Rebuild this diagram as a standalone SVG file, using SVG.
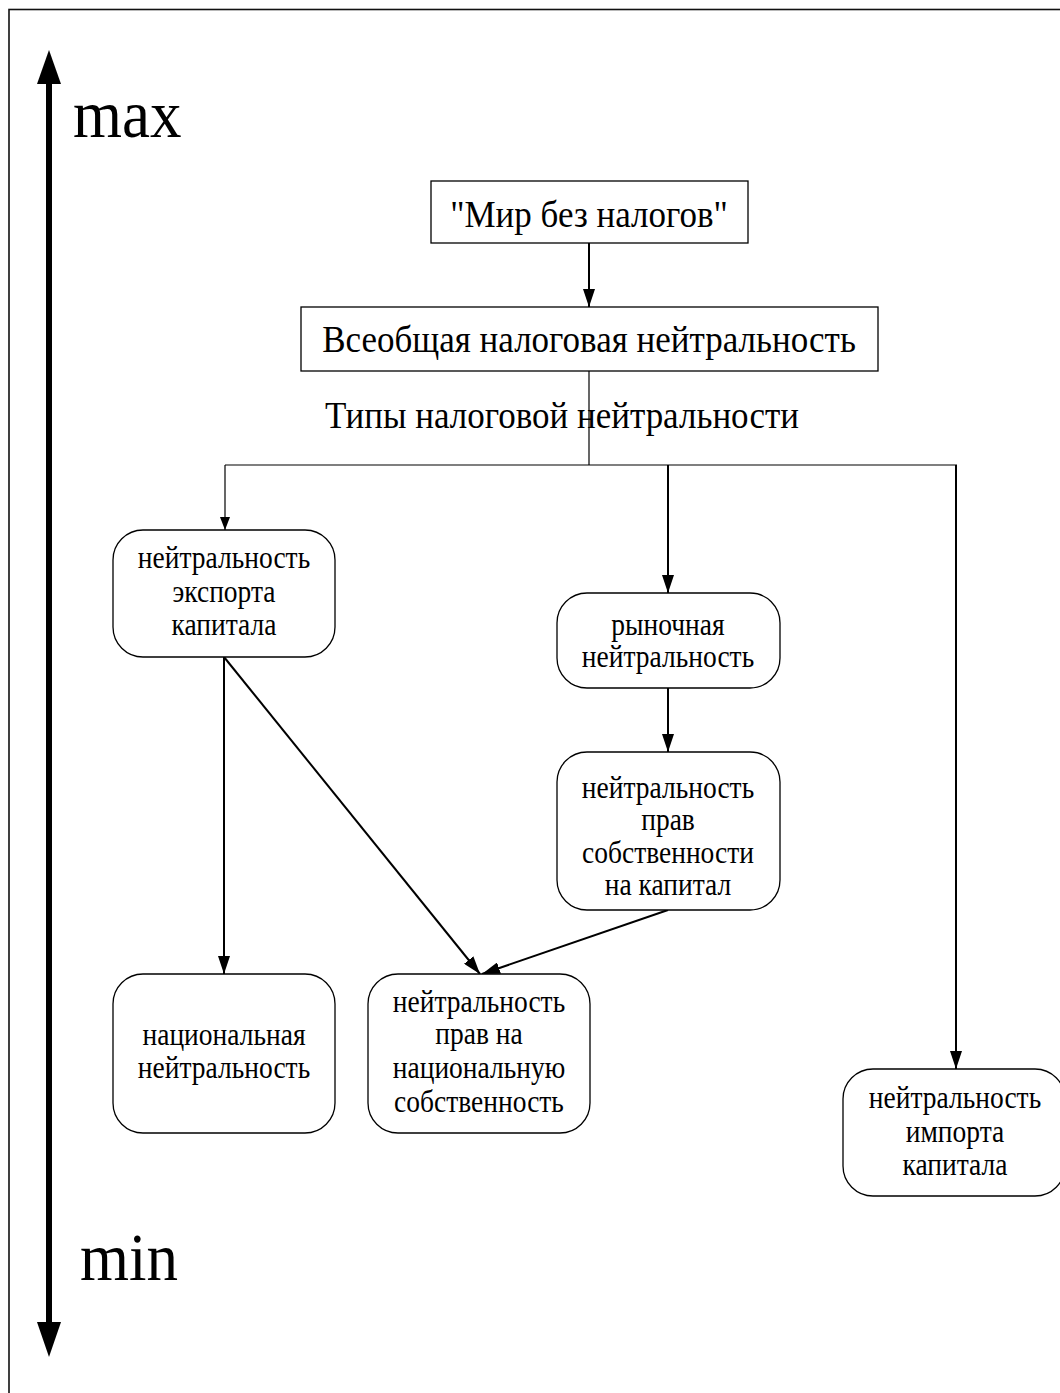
<svg xmlns="http://www.w3.org/2000/svg" width="1060" height="1393" viewBox="0 0 1060 1393">
<style>
text{font-family:"Liberation Serif","Times New Roman",serif;fill:#000;text-anchor:middle}
.big{font-size:63px;text-anchor:start}
.ttl{font-size:35px}
.nd{font-size:27.5px}
.box{fill:#fff;stroke:#000;stroke-width:1.3}
.con{fill:none;stroke:#000;stroke-width:2}
.thin{fill:none;stroke:#000;stroke-width:1.2}
</style>
<defs>
<marker id="ah" markerWidth="18" markerHeight="12" refX="18" refY="6" orient="auto" markerUnits="userSpaceOnUse"><path d="M0,0 L18,6 L0,12 z" fill="#000"/></marker>
<marker id="ahs" markerWidth="13" markerHeight="10" refX="13" refY="5" orient="auto" markerUnits="userSpaceOnUse"><path d="M0,0 L13,5 L0,10 z" fill="#000"/></marker>
</defs>
<rect x="0" y="0" width="1060" height="1393" fill="#fff"/>
<rect x="9" y="9.5" width="1100" height="1450" fill="none" stroke="#111" stroke-width="1.6"/>
<g id="axis">
<line x1="49" y1="80" x2="49" y2="1325" stroke="#000" stroke-width="6"/>
<polygon points="49,50 61,84 37,84" fill="#000"/>
<polygon points="49,1357 61,1322 37,1322" fill="#000"/>
<text class="big" transform="translate(73,137) scale(1,1.08)">max</text>
<text class="big" transform="translate(80,1280) scale(1,1.08)">min</text>
</g>
<g id="connectors">
<path class="con" d="M589,243 V307" marker-end="url(#ah)"/>
<path class="thin" d="M589,371 V465"/>
<path class="thin" d="M225,465 H957"/>
<path class="thin" d="M225,465 V530" marker-end="url(#ahs)"/>
<path class="con" d="M668,465 V593" marker-end="url(#ah)"/>
<path class="con" d="M956,465 V1069" marker-end="url(#ah)"/>
<path class="con" d="M668,688 V752" marker-end="url(#ah)"/>
<path class="con" d="M224,657 V974" marker-end="url(#ah)"/>
<path class="con" d="M224,657 L480,974" marker-end="url(#ah)"/>
<path class="con" d="M668,910 L482,974" marker-end="url(#ah)"/>
</g>
<g id="n-mir">
<rect class="box" x="431" y="181" width="317" height="62"/>
<text class="ttl" transform="translate(589,227) scale(1,1.1)">"Мир без налогов"</text>
</g>
<g id="n-vseob">
<rect class="box" x="301" y="307" width="577" height="64"/>
<text class="ttl" transform="translate(589,352) scale(1,1.1)">Всеобщая налоговая нейтральность</text>
</g>
<g id="lbl-types">
<text class="ttl" transform="translate(562,428) scale(1,1.1)">Типы налоговой нейтральности</text>
</g>
<g id="n-export">
<rect class="box" x="113" y="530" width="222" height="127" rx="30"/>
<text class="nd" transform="translate(224,568) scale(1,1.12)">нейтральность</text>
<text class="nd" transform="translate(224,602) scale(1,1.12)">экспорта</text>
<text class="nd" transform="translate(224,635) scale(1,1.12)">капитала</text>
</g>
<g id="n-market">
<rect class="box" x="557" y="593" width="223" height="95" rx="30"/>
<text class="nd" transform="translate(668,635) scale(1,1.12)">рыночная</text>
<text class="nd" transform="translate(668,667) scale(1,1.12)">нейтральность</text>
</g>
<g id="n-prop-cap">
<rect class="box" x="557" y="752" width="223" height="158" rx="30"/>
<text class="nd" transform="translate(668,798) scale(1,1.12)">нейтральность</text>
<text class="nd" transform="translate(668,830) scale(1,1.12)">прав</text>
<text class="nd" transform="translate(668,863) scale(1,1.12)">собственности</text>
<text class="nd" transform="translate(668,895) scale(1,1.12)">на капитал</text>
</g>
<g id="n-national">
<rect class="box" x="113" y="974" width="222" height="159" rx="30"/>
<text class="nd" transform="translate(224,1045) scale(1,1.12)">национальная</text>
<text class="nd" transform="translate(224,1078) scale(1,1.12)">нейтральность</text>
</g>
<g id="n-nat-prop">
<rect class="box" x="368" y="974" width="222" height="159" rx="30"/>
<text class="nd" transform="translate(479,1012) scale(1,1.12)">нейтральность</text>
<text class="nd" transform="translate(479,1044) scale(1,1.12)">прав на</text>
<text class="nd" transform="translate(479,1078) scale(1,1.12)">национальную</text>
<text class="nd" transform="translate(479,1112) scale(1,1.12)">собственность</text>
</g>
<g id="n-import">
<rect class="box" x="843" y="1069" width="222" height="127" rx="30"/>
<text class="nd" transform="translate(955,1108) scale(1,1.12)">нейтральность</text>
<text class="nd" transform="translate(955,1142) scale(1,1.12)">импорта</text>
<text class="nd" transform="translate(955,1175) scale(1,1.12)">капитала</text>
</g>
</svg>
